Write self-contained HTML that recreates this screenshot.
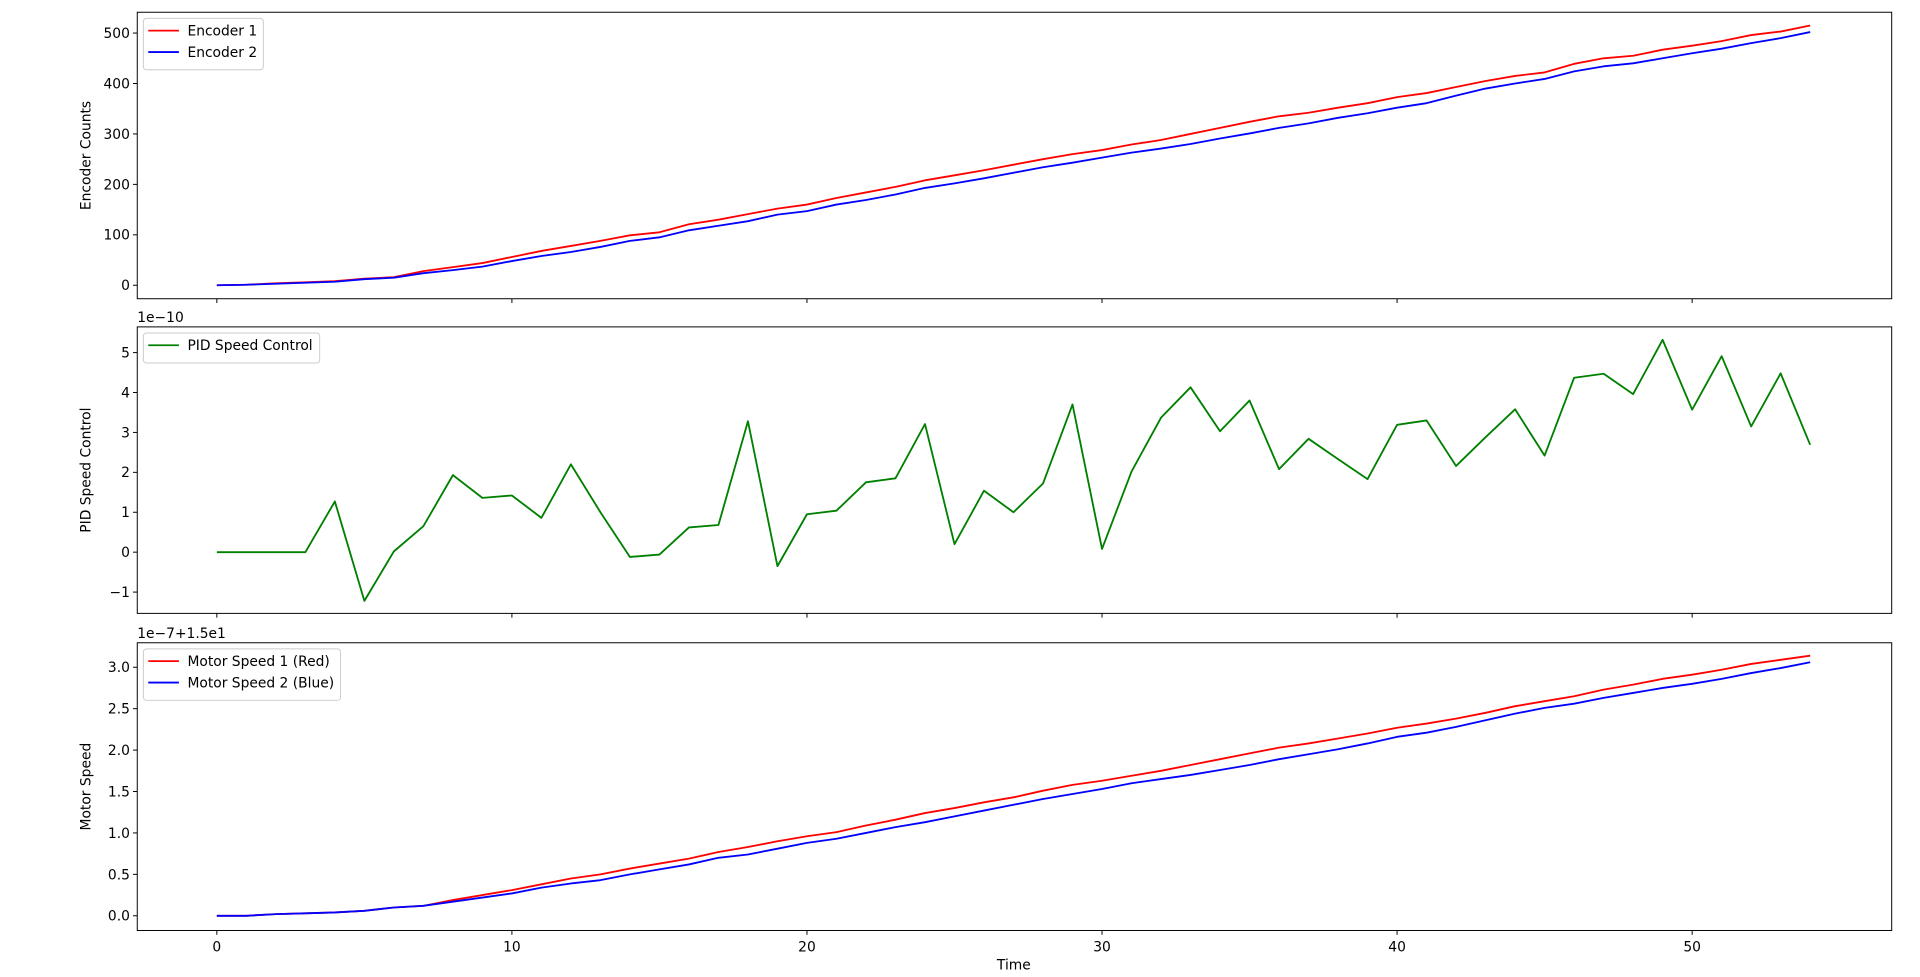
<!DOCTYPE html>
<html><head><meta charset="utf-8"><style>
html,body{margin:0;padding:0;background:#fff;}
svg{display:block;font-family:"DejaVu Sans","Liberation Sans",sans-serif;}
</style></head><body>
<svg id="chart" width="1920" height="977" viewBox="0 0 1568 798" xmlns="http://www.w3.org/2000/svg"></svg>
<script>
const times = [];
for (let i = 0; i <= 54; i++) times.push(i);
const encoder1 = [0,1,4,6,8,13,16,28,36,44,56,68,78,88,99,105,121,130,141,152,160,173,184,195,208,218,228,239,250,260,268,279,288,300,312,324,335,342,352,361,373,381,393,405,415,422,439,450,455,467,475,484,496,503,515];
const encoder2 = [0,1,3,5,7,12,15,24,30,37,48,58,66,76,88,95,109,118,127,140,147,160,169,180,193,202,212,223,234,243,253,263,271,280,291,301,312,321,332,341,352,361,376,390,400,409,424,434,440,450,460,469,480,490,502];
const pidValues = [0,0,0,0,1.27,-1.22,0.02,0.65,1.93,1.36,1.42,0.86,2.2,1.0,-0.12,-0.06,0.62,0.68,3.28,-0.35,0.95,1.04,1.75,1.85,3.21,0.2,1.54,1.0,1.72,3.7,0.08,2.02,3.37,4.13,3.03,3.8,2.08,2.84,2.33,1.83,3.19,3.3,2.16,2.88,3.58,2.42,4.37,4.47,3.96,5.32,3.57,4.91,3.15,4.48,2.69];
const motor1 = [0,0,0.02,0.03,0.04,0.06,0.10,0.12,0.19,0.25,0.31,0.38,0.45,0.50,0.57,0.63,0.69,0.77,0.83,0.90,0.96,1.01,1.09,1.16,1.24,1.30,1.37,1.43,1.51,1.58,1.63,1.69,1.75,1.82,1.89,1.96,2.03,2.08,2.14,2.20,2.27,2.32,2.38,2.45,2.53,2.59,2.65,2.73,2.79,2.86,2.91,2.97,3.04,3.09,3.14];
const motor2 = [0,0,0.02,0.03,0.04,0.06,0.10,0.12,0.17,0.22,0.27,0.34,0.39,0.43,0.50,0.56,0.62,0.70,0.74,0.81,0.88,0.93,1.00,1.07,1.13,1.20,1.27,1.34,1.41,1.47,1.53,1.60,1.65,1.70,1.76,1.82,1.89,1.95,2.01,2.08,2.16,2.21,2.28,2.36,2.44,2.51,2.56,2.63,2.69,2.75,2.80,2.86,2.93,2.99,3.06];
const xTicks = [0,10,20,30,40,50];
const encTicks = [0,100,200,300,400,500];
const pidTicks = [-1,0,1,2,3,4,5];
const motorTicks = [0.0,0.5,1.0,1.5,2.0,2.5,3.0];

const NS = "http://www.w3.org/2000/svg";
const svg = document.getElementById('chart');
function el(tag, attrs, parent) {
  const e = document.createElementNS(NS, tag);
  for (const k in attrs) e.setAttribute(k, attrs[k]);
  (parent || svg).appendChild(e);
  return e;
}
const L = 112, R = 1545;
const xScale = t => 177 + (t - 0) * (1382 - 177) / 50;
const FS = 11.3;

function panel(name, top, bottom, yScale, ticks, fmt, ylabel, series, legend, offsetText, showXLabels) {
  const g = el('g', {});
  
  
  // ticks y
  ticks.forEach(v => {
    const y = yScale(v);
    const t = el('line', {x1: L - 3.5, x2: L, y1: y, y2: y, stroke: '#000', 'stroke-width': 0.8}, g);
    
    
    const tx = el('text', {x: L - 6, y: y + 4, 'text-anchor': 'end', 'font-size': FS, fill: '#000'}, g);
    tx.textContent = fmt(v);
    
    
  });
  xTicks.forEach(v => {
    const x = xScale(v);
    const t = el('line', {x1: x, x2: x, y1: bottom, y2: bottom + 3.5, stroke: '#000', 'stroke-width': 0.8}, g);
    
    
    if (showXLabels) {
      const tx = el('text', {x: x, y: bottom + 17, 'text-anchor': 'middle', 'font-size': FS, fill: '#000'}, g);
      tx.textContent = v;
      
      
    }
  });
  series.forEach(s => {
    const pts = times.map((t, i) => xScale(t).toFixed(2) + ',' + yScale(s.data[i]).toFixed(2)).join(' ');
    const p = el('polyline', {points: pts, fill: 'none', stroke: s.color, 'stroke-width': 1.5, 'stroke-linejoin': 'round'}, g);
    
    
  });
  const fr = el('rect', {x: L, y: top, width: R - L, height: bottom - top, fill: 'none', stroke: '#000', 'stroke-width': 0.8}, g);
  
  
  const cy = (top + bottom) / 2;
  const yl = el('text', {x: 0, y: 0, transform: `translate(74,${cy}) rotate(-90)`, 'text-anchor': 'middle', 'font-size': FS, fill: '#000'}, g);
  yl.textContent = ylabel;
  
  
  if (offsetText) {
    const ot = el('text', {x: L, y: top - 4, 'font-size': FS, fill: '#000'}, g);
    ot.textContent = offsetText;
    
    
  }
  // legend
  const lg = el('g', {}, g);
  
  
  el('rect', {x: 117, y: top + 5, width: legend.w, height: 7 + legend.items.length * 17.5, rx: 2.5, fill: '#fff', 'fill-opacity': 0.8, stroke: '#ccc', 'stroke-width': 0.8}, lg);
  legend.items.forEach((it, i) => {
    const y = top + 15 + i * 17.5;
    const ln = el('line', {x1: 121, x2: 146, y1: y, y2: y, stroke: it.color, 'stroke-width': 1.5}, lg);
    
    
    const t = el('text', {x: 153, y: y + 4, 'font-size': FS, fill: '#000'}, lg);
    t.textContent = it.label;
    
    
  });
}

panel('encoder', 10, 244, v => 233 + v * (27 - 233) / 500, encTicks, v => String(v), 'Encoder Counts',
  [{name: 'encoder-1-line', data: encoder1, color: '#ff0000'}, {name: 'encoder-2-line', data: encoder2, color: '#0000ff'}],
  {w: 98, items: [{label: 'Encoder 1', color: '#ff0000'}, {label: 'Encoder 2', color: '#0000ff'}]}, null, false);

panel('pid', 267, 501, v => 451 + v * (288 - 451) / 5, pidTicks, v => v < 0 ? '\u2212' + (-v) : String(v), 'PID Speed Control',
  [{name: 'pid-line', data: pidValues, color: '#008000'}],
  {w: 144, items: [{label: 'PID Speed Control', color: '#008000'}]}, '1e\u221210', false);

panel('motor', 525, 760, v => 748 + v * (545 - 748) / 3, motorTicks, v => v.toFixed(1), 'Motor Speed',
  [{name: 'motor-speed-1-line', data: motor1, color: '#ff0000'}, {name: 'motor-speed-2-line', data: motor2, color: '#0000ff'}],
  {w: 161, items: [{label: 'Motor Speed 1 (Red)', color: '#ff0000'}, {label: 'Motor Speed 2 (Blue)', color: '#0000ff'}]}, '1e\u22127+1.5e1', true);

const xt = el('text', {x: 828, y: 792, 'text-anchor': 'middle', 'font-size': FS, fill: '#000'});
xt.textContent = 'Time';


</script>
</body></html>
